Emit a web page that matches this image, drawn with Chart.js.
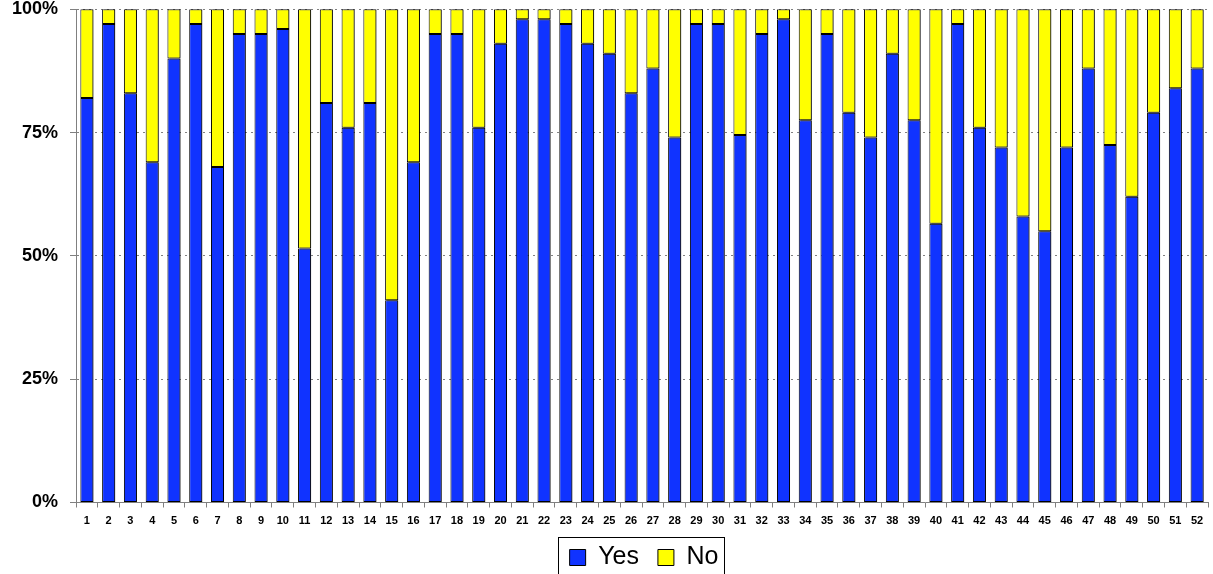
<!DOCTYPE html>
<html>
<head>
<meta charset="utf-8">
<script src="https://cdn.jsdelivr.net/npm/chart.js@4.4.1/dist/chart.umd.min.js"></script>
<style>
  html, body { margin: 0; padding: 0; background: #ffffff; overflow: hidden; }
  #wrap { width: 1213px; height: 574px; overflow: hidden; }
  canvas { display: block; }
</style>
</head>
<body>
<div id="wrap"><canvas id="chart" width="1213" height="580"></canvas></div>
<script>
// Categories along the x axis
const categories = ['1','2','3','4','5','6','7','8','9','10','11','12','13','14','15','16','17','18','19','20',
  '21','22','23','24','25','26','27','28','29','30','31','32','33','34','35','36','37','38','39','40',
  '41','42','43','44','45','46','47','48','49','50','51','52'];

// Share of "Yes" answers per category (%)
const yesValues = [82,97,83,69,90,97,68,95,95,96,51.5,81,76,81,41,69,95,95,76,93,
  98,98,97,93,91,83,88,74,97,97,74.5,95,98,77.5,95,79,74,91,77.5,56.5,
  97,76,72,58,55,72,88,72.5,62,79,84,88];

// Share of "No" answers per category (%)
const noValues = [18,3,17,31,10,3,32,5,5,4,48.5,19,24,19,59,31,5,5,24,7,
  2,2,3,7,9,17,12,26,3,3,25.5,5,2,22.5,5,21,26,9,22.5,43.5,
  3,24,28,42,45,28,12,27.5,38,21,16,12];

// Value axis tick labels
const yTicks = [0, 25, 50, 75, 100];
const yTickLabels = ['0%', '25%', '50%', '75%', '100%'];

const FONT = "Arial, 'Liberation Sans', sans-serif";
const LEGEND_PAD = 19;

// Gray drop shadow to the right of every bar
const barShadow = {
  id: 'barShadow',
  beforeDatasetsDraw(chart) {
    const ctx = chart.ctx;
    ctx.save();
    ctx.shadowColor = 'rgba(0,0,0,0.45)';
    ctx.shadowOffsetX = 2;
    ctx.shadowOffsetY = 0;
    ctx.shadowBlur = 0;
  },
  afterDatasetsDraw(chart) {
    chart.ctx.restore();
  }
};

// Legend sits under the middle of the plot and gets a framed box
const legendFrame = {
  id: 'legendFrame',
  afterLayout(chart) {
    const lg = chart.legend;
    const mid = (chart.chartArea.left + chart.chartArea.right) / 2;
    const rowW = lg.lineWidths[0] - LEGEND_PAD;
    const start = mid - rowW / 2 + 2;
    const w = lg.right - lg.left;
    lg.left = start - LEGEND_PAD;
    lg.right = lg.left + w;
  },
  afterDraw(chart) {
    const lg = chart.legend;
    const ctx = chart.ctx;
    const x0 = lg.left + LEGEND_PAD;
    const rowW = lg.lineWidths[0] - LEGEND_PAD;
    const cy = lg.top + LEGEND_PAD + 12.5;
    ctx.save();
    ctx.strokeStyle = '#000000';
    ctx.lineWidth = 1;
    ctx.strokeRect(Math.round(x0 - 12) + 0.5, Math.round(cy - 21) + 0.5, Math.round(rowW + 17), 60);
    ctx.restore();
  }
};

new Chart(document.getElementById('chart'), {
  type: 'bar',
  data: {
    labels: categories,
    datasets: [
      {
        label: 'Yes',
        data: yesValues,
        backgroundColor: '#1033FF',
        borderColor: '#000000',
        borderWidth: 1,
        borderSkipped: false,
        barPercentage: 0.6,
        categoryPercentage: 1.0
      },
      {
        label: 'No',
        data: noValues,
        backgroundColor: '#FFFF00',
        borderColor: '#000000',
        borderWidth: 1,
        borderSkipped: false,
        barPercentage: 0.6,
        categoryPercentage: 1.0
      }
    ]
  },
  options: {
    responsive: false,
    devicePixelRatio: 1,
    animation: false,
    layout: { padding: { left: 0, right: 5, top: 0, bottom: 0 } },
    plugins: {
      tooltip: { enabled: false },
      legend: {
        position: 'bottom',
        align: 'start',
        labels: {
          color: '#000000',
          font: { family: FONT, size: 25, weight: 'normal' },
          boxWidth: 16,
          boxHeight: 16,
          padding: LEGEND_PAD
        }
      }
    },
    scales: {
      x: {
        stacked: true,
        afterFit(scale) { scale.height = 23.5; },
        border: { display: true, color: '#808080', width: 1 },
        grid: {
          display: true,
          offset: true,
          drawOnChartArea: false,
          drawTicks: true,
          tickLength: 5,
          color: '#808080'
        },
        ticks: {
          color: '#000000',
          font: { family: FONT, size: 11, weight: 'bold' },
          padding: 7,
          autoSkip: false,
          maxRotation: 0,
          minRotation: 0
        }
      },
      y: {
        stacked: true,
        min: 0,
        max: 100,
        afterFit(scale) {
          scale.width = 76;
          scale.paddingTop = 9.3;
          scale.paddingBottom = 0;
        },
        afterBuildTicks(scale) {
          scale.ticks = yTicks.map(v => ({ value: v }));
        },
        border: { display: true, color: '#808080', width: 1, dash: [2, 4] },
        grid: {
          display: true,
          drawOnChartArea: true,
          drawTicks: true,
          tickLength: 6,
          color: '#808080',
          tickColor: '#808080',
          tickBorderDash: [],
          lineWidth: 1
        },
        ticks: {
          color: '#000000',
          font: { family: FONT, size: 18, weight: 'bold', lineHeight: 1.05 },
          padding: 12,
          callback(value) {
            const i = yTicks.indexOf(value);
            return i >= 0 ? yTickLabels[i] : '';
          }
        }
      }
    }
  },
  plugins: [barShadow, legendFrame]
});
</script>
</body>
</html>
